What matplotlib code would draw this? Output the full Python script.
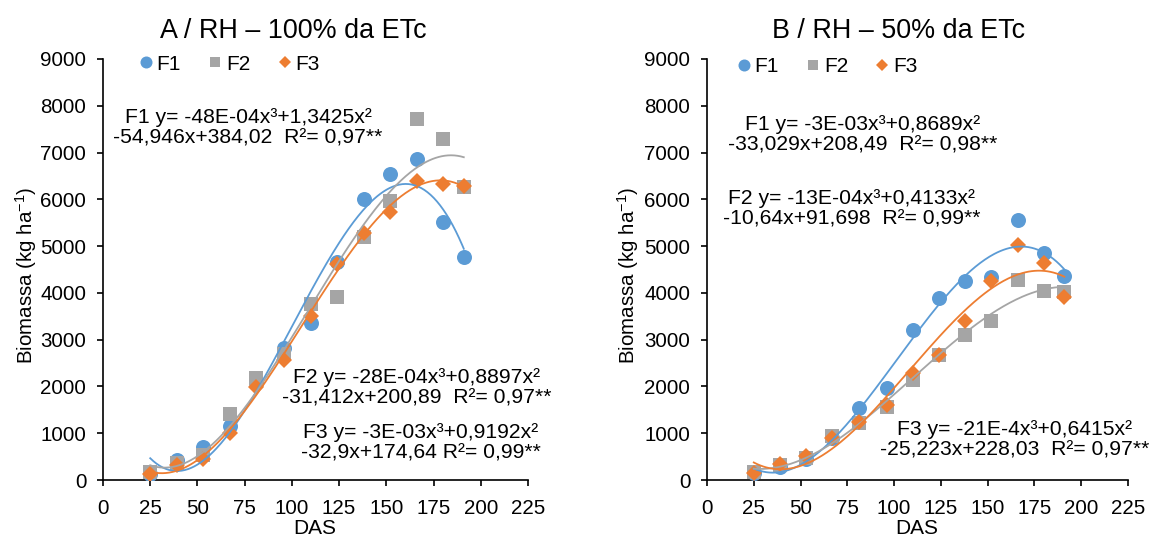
import numpy as np
import matplotlib
matplotlib.use('Agg')
import matplotlib.pyplot as plt
from matplotlib.lines import Line2D

plt.rcParams['font.family'] = ['Liberation Sans', 'DejaVu Sans']
plt.rcParams['mathtext.fontset'] = 'custom'
plt.rcParams['mathtext.rm'] = 'Liberation Sans'
plt.rcParams['mathtext.it'] = 'Liberation Sans:italic'

# days after sowing
das = [25, 39, 53, 67, 81, 96, 110, 124, 138, 152, 166, 180, 191]

# A - 100% ETc
a_f1 = [120, 430, 700, 1150, 2080, 2820, 3355, 4670, 6000, 6550, 6870, 5510, 4770]
a_f2 = [170, 360, 530, 1420, 2170, 2700, 3770, 3910, 5200, 5970, 7720, 7300, 6260]
a_f3 = [130, 320, 440, 1010, 1990, 2570, 3500, 4620, 5280, 5720, 6400, 6330, 6290]

# B - 50% ETc
b_f1 = [150, 270, 440, 900, 1530, 1970, 3210, 3890, 4250, 4350, 5560, 4860, 4360]
b_f2 = [175, 320, 480, 940, 1210, 1570, 2130, 2680, 3090, 3390, 4270, 4050, 4010]
b_f3 = [140, 350, 515, 900, 1250, 1610, 2290, 2680, 3400, 4260, 5030, 4640, 3920]

titles = ['A / RH – 100% da ETc', 'B / RH – 50% da ETc']
eq_a = ['F1 y= -48E-04x³+1,3425x²\n-54,946x+384,02  R²= 0,97**',
        'F2 y= -28E-04x³+0,8897x²\n-31,412x+200,89  R²= 0,97**',
        'F3 y= -3E-03x³+0,9192x²\n-32,9x+174,64 R²= 0,99**']
eq_b = ['F1 y= -3E-03x³+0,8689x²\n-33,029x+208,49  R²= 0,98**',
        'F2 y= -13E-04x³+0,4133x²\n-10,64x+91,698  R²= 0,99**',
        'F3 y= -21E-4x³+0,6415x²\n-25,223x+228,03  R²= 0,97**']

colors = ['#5B9BD5', '#A5A5A5', '#ED7D31']
markers = ['o', 's', 'D']
msizes = [10.8, 9.8, 7.8]
names = ['F1', 'F2', 'F3']

W, H = 1153, 537
fig = plt.figure(figsize=(W / 100, H / 100), dpi=100)


def fx(x):
    return x / W


def fy(y):
    return 1 - y / H


def draw_panel(ax, series):
    xfit = np.linspace(min(das), max(das), 200)
    for ys, c, m, ms in zip(series, colors, markers, msizes):
        ax.plot(das, ys, linestyle='none', marker=m, markersize=ms,
                color=c, markeredgewidth=0, zorder=3)
    for ys, c in zip(series, colors):
        coef = np.polyfit(das, ys, 3)
        ax.plot(xfit, np.polyval(coef, xfit), color=c, lw=1.3, zorder=4)
    ax.set_xlim(0, 225)
    ax.set_ylim(0, 9000)
    ax.set_xticks(range(0, 226, 25))
    ax.set_yticks(range(0, 9001, 1000))
    for s in ['top', 'right']:
        ax.spines[s].set_visible(False)
    for s in ['left', 'bottom']:
        ax.spines[s].set_linewidth(1.2)
        ax.spines[s].set_color('black')
    ax.tick_params(axis='both', labelsize=14.8, length=4, width=1.2,
                   direction='out', colors='black')
    ax.tick_params(axis='y', pad=8)
    ax.tick_params(axis='x', pad=10)
    ax.patch.set_alpha(0)


axL = fig.add_axes([fx(103), fy(480), 425 / W, 421 / H])
axR = fig.add_axes([fx(707), fy(480), 421 / W, 421 / H])
draw_panel(axL, [a_f1, a_f2, a_f3])
draw_panel(axR, [b_f1, b_f2, b_f3])

handles = [Line2D([], [], linestyle='none', marker=m, color=c,
                  markersize=ms * 0.8, markeredgewidth=0)
           for m, c, ms in zip(markers, colors, msizes)]
for lx, ly in [(139, 64), (737, 67)]:
    fig.legend(handles, names, loc='center left',
               bbox_to_anchor=(fx(lx), fy(ly)), ncol=3, frameon=False,
               fontsize=15, handlelength=0.7, handletextpad=0.15,
               columnspacing=1.3, borderpad=0, borderaxespad=0)

# titles
fig.text(fx(293), fy(31), titles[0], fontsize=19.4, ha='center', va='center')
fig.text(fx(899), fy(31), titles[1], fontsize=19.4, ha='center', va='center')

# axis labels
ylab = 'Biomassa (kg ha$^{\\mathregular{-1}}$)'
fig.text(fx(26), fy(275), ylab, fontsize=14.8, rotation=90,
         ha='center', va='center')
fig.text(fx(628), fy(275), ylab, fontsize=14.8, rotation=90,
         ha='center', va='center')
fig.text(fx(315), fy(519), 'DAS', fontsize=15, ha='center', va='top')
fig.text(fx(917), fy(519), 'DAS', fontsize=15, ha='center', va='top')

# regression equations
pos_a = [(248, 128), (417, 388), (421, 443)]
pos_b = [(863, 135), (852, 209), (1015, 440)]
for txt, (px, py) in zip(eq_a + eq_b, pos_a + pos_b):
    fig.text(fx(px), fy(py), txt, fontsize=15.2, ha='center', va='center',
             multialignment='center', linespacing=1.1)

fig.savefig('out.png', dpi=100)
